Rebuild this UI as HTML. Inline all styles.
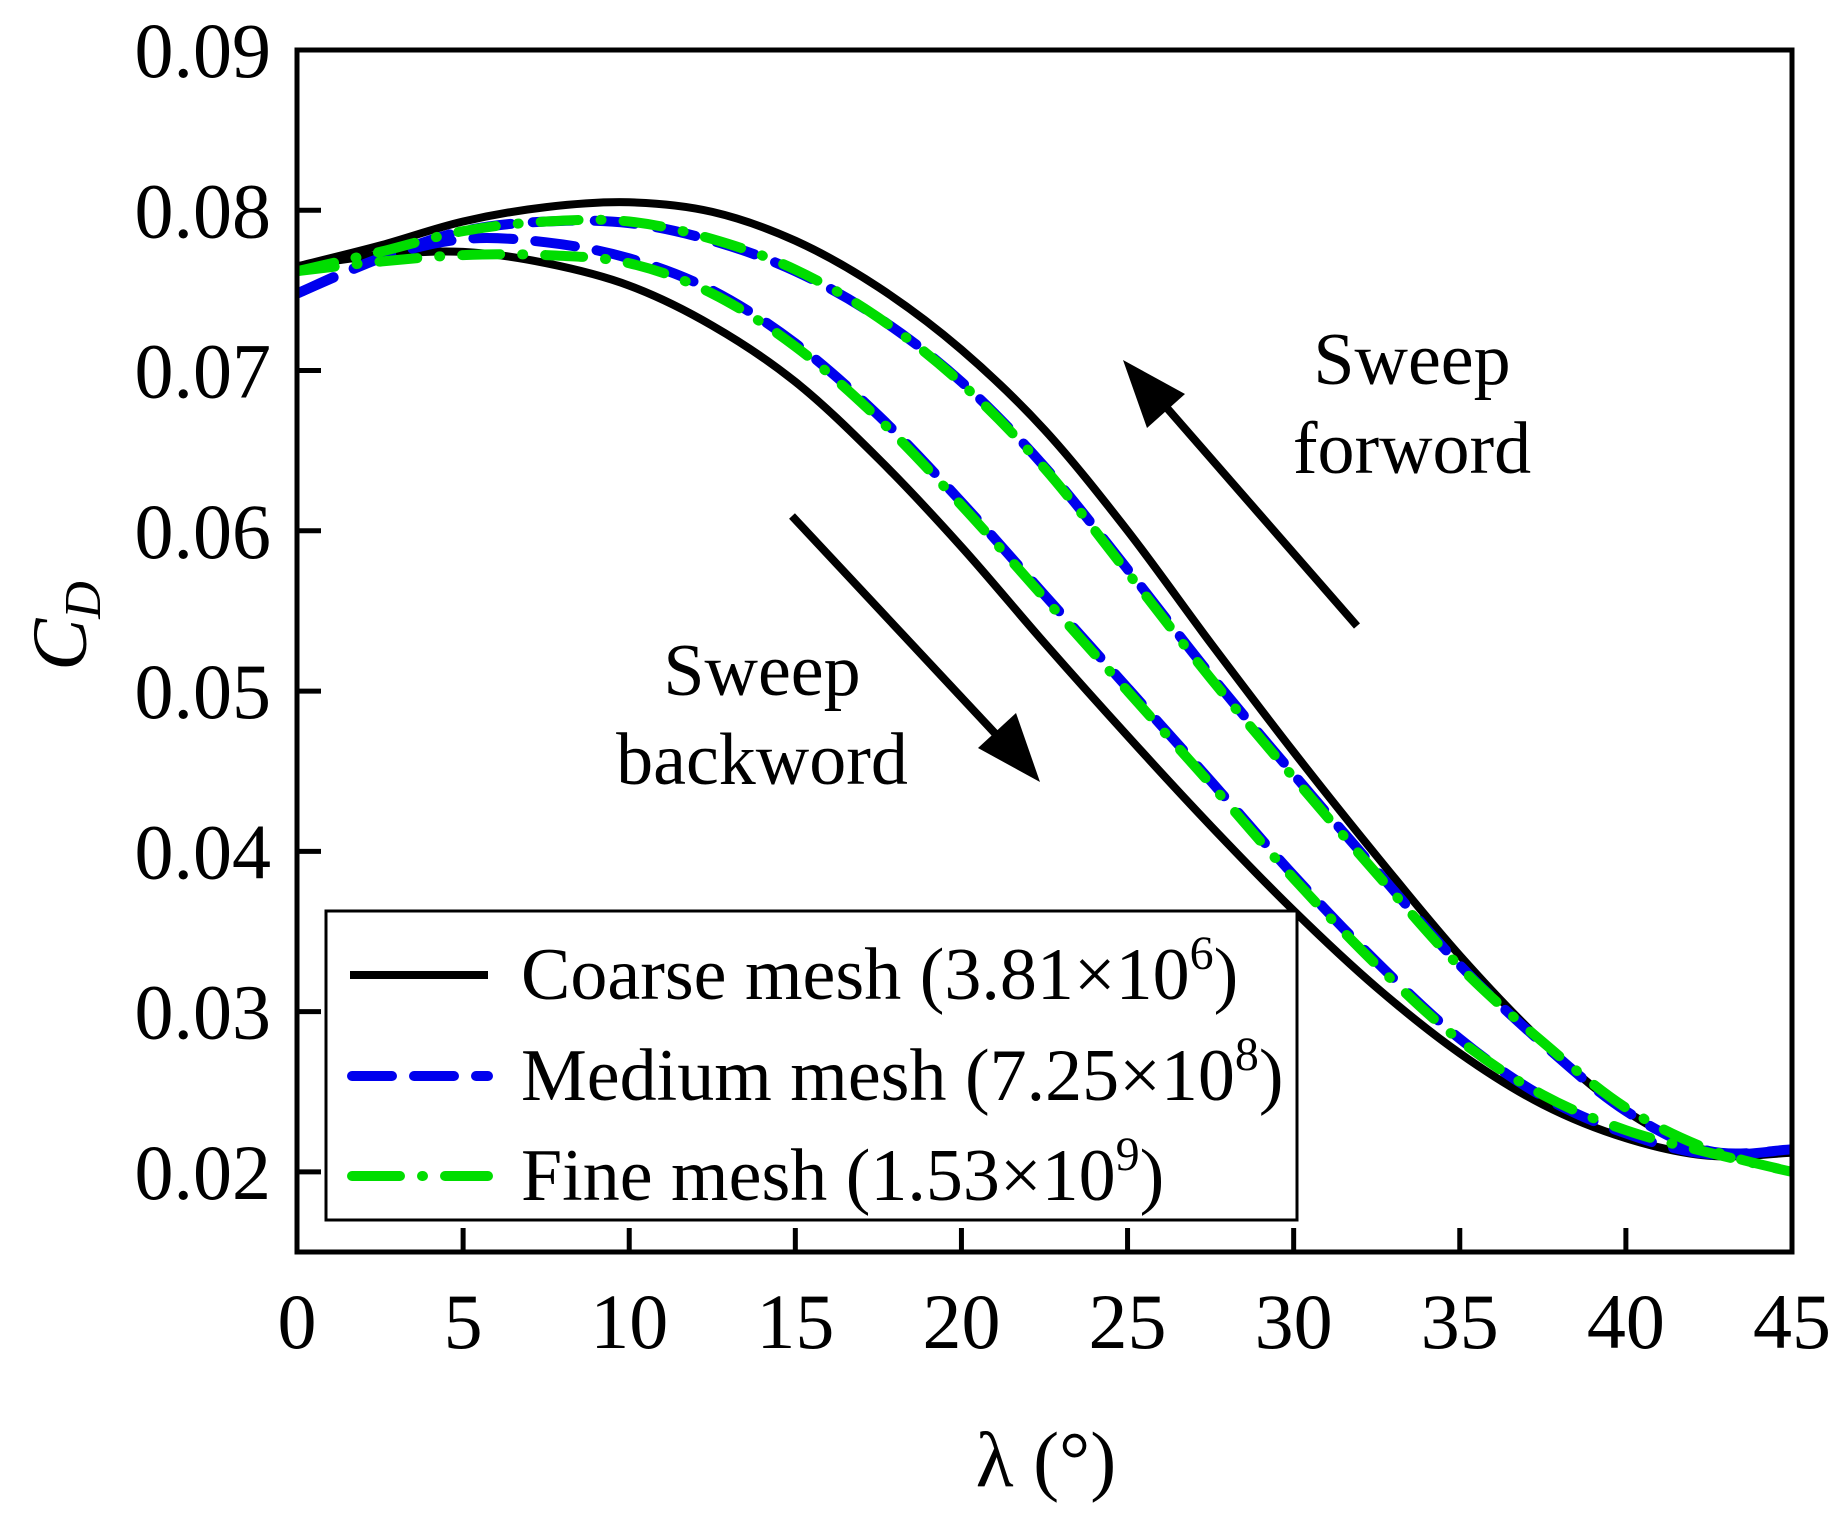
<!DOCTYPE html>
<html><head><meta charset="utf-8"><style>
html,body{margin:0;padding:0;background:#fff;}
svg text{font-family:"Liberation Serif",serif;fill:#000;}
</style></head><body>
<svg id="chart" width="1844" height="1518" viewBox="0 0 1844 1518" xmlns="http://www.w3.org/2000/svg">
<g id="plot"></g>
<g id="axes"></g>
</svg>
<script>
const lambdas = [0,2.5,5,7.5,10,12.5,15,17.5,20,22.5,25,27.5,30,32.5,35,37.5,40,42.5,45];
const coarseUpper = [0.0765,0.0778,0.0793,0.0802,0.0805,0.0799,0.0781,0.0752,0.0713,0.0663,0.0600,0.0530,0.0462,0.0397,0.0335,0.0281,0.0238,0.0213,0.0212];
const coarseLower = [0.0765,0.0772,0.0774,0.0767,0.0753,0.0728,0.0693,0.0645,0.0590,0.0530,0.0472,0.0416,0.0363,0.0315,0.0274,0.0242,0.0221,0.0210,0.0212];
const mediumUpper = [0.0748,0.0770,0.0787,0.0793,0.0792,0.0781,0.0762,0.0733,0.0693,0.0640,0.0576,0.0510,0.0448,0.0388,0.0329,0.0280,0.0238,0.0213,0.0214];
const mediumLower = [0.0748,0.0770,0.0782,0.0780,0.0770,0.0750,0.0717,0.0672,0.0618,0.0560,0.0502,0.0444,0.0385,0.0331,0.0283,0.0247,0.0224,0.0211,0.0214];
const fineUpper = [0.0762,0.0774,0.0787,0.0793,0.0793,0.0782,0.0763,0.0733,0.0692,0.0639,0.0574,0.0508,0.0446,0.0386,0.0328,0.0281,0.0240,0.0214,0.0200];
const fineLower = [0.0762,0.0768,0.0772,0.0772,0.0767,0.0748,0.0715,0.0670,0.0616,0.0558,0.0500,0.0442,0.0383,0.0329,0.0282,0.0248,0.0226,0.0212,0.0200];
const xTicks = [0,5,10,15,20,25,30,35,40,45];
const yTicks = [0.02,0.03,0.04,0.05,0.06,0.07,0.08,0.09];
const yTickLabels = ["0.02","0.03","0.04","0.05","0.06","0.07","0.08","0.09"];

const NS="http://www.w3.org/2000/svg";
const X0=297,X1=1792,Y0=1252,Y1=50,XMIN=0,XMAX=45,YMIN=0.015,YMAX=0.09;
function sx(v){return X0+(v-XMIN)/(XMAX-XMIN)*(X1-X0);}
function sy(v){return Y0-(v-YMIN)/(YMAX-YMIN)*(Y0-Y1);}
function mk(tag,attrs,parent){const e=document.createElementNS(NS,tag);for(const k in attrs)e.setAttribute(k,attrs[k]);parent.appendChild(e);return e;}
function smooth(xs,ys){
  const p=xs.map((x,i)=>[sx(x),sy(ys[i])]);
  let d="M"+p[0][0].toFixed(1)+","+p[0][1].toFixed(1);
  for(let i=0;i<p.length-1;i++){
    const p0=p[Math.max(0,i-1)],p1=p[i],p2=p[i+1],p3=p[Math.min(p.length-1,i+2)];
    const c1=[p1[0]+(p2[0]-p0[0])/6,p1[1]+(p2[1]-p0[1])/6];
    const c2=[p2[0]-(p3[0]-p1[0])/6,p2[1]-(p3[1]-p1[1])/6];
    d+="C"+c1[0].toFixed(1)+","+c1[1].toFixed(1)+" "+c2[0].toFixed(1)+","+c2[1].toFixed(1)+" "+p2[0].toFixed(1)+","+p2[1].toFixed(1);
  }
  return d;
}
const plot=document.getElementById('plot');
const axes=document.getElementById('axes');
const cp=mk('clipPath',{id:'clip'},plot);
mk('rect',{x:X0,y:Y1,width:X1-X0,height:Y0-Y1},cp);
const g=mk('g',{'clip-path':'url(#clip)'},plot);
const styles={
 coarse:{stroke:'#000',"stroke-width":8,fill:'none'},
 medium:{stroke:'#0000ee',"stroke-width":10,fill:'none',"stroke-dasharray":"40 22","stroke-linecap":"round"},
 fine:{stroke:'#00dd00',"stroke-width":10,fill:'none',"stroke-dasharray":"38 22 1 22","stroke-linecap":"round"}
};
function series(name,ys,key){
  const p=mk('path',Object.assign({d:smooth(lambdas,ys)},styles[key]),g);
  
  
}
series('coarse-upper-line',coarseUpper,'coarse');
series('coarse-lower-line',coarseLower,'coarse');
series('medium-upper-line',mediumUpper,'medium');
series('medium-lower-line',mediumLower,'medium');
series('fine-upper-line',fineUpper,'fine');
series('fine-lower-line',fineLower,'fine');

const fr=mk('rect',{x:X0,y:Y1,width:X1-X0,height:Y0-Y1,fill:'none',stroke:'#000','stroke-width':5},axes);


xTicks.forEach(t=>{
  const l=mk('line',{x1:sx(t),x2:sx(t),y1:Y0,y2:Y0-24,stroke:'#000','stroke-width':5},axes);
  
  
  const tx=mk('text',{x:sx(t),y:1348,'font-size':78,'text-anchor':'middle'},axes);
  tx.textContent=t;
  
  
});
yTicks.forEach((t,i)=>{
  const l=mk('line',{x1:X0,x2:X0+24,y1:sy(t),y2:sy(t),stroke:'#000','stroke-width':5},axes);
  
  
  const tx=mk('text',{x:271,y:sy(t)+27,'font-size':78,'text-anchor':'end'},axes);
  tx.textContent=yTickLabels[i];
  
  
});
</script>
<svg style="position:absolute;left:0;top:0" width="1844" height="1518" xmlns="http://www.w3.org/2000/svg">
<text x="1046" y="1486" font-size="78" text-anchor="middle">λ (°)</text>
<text transform="translate(86,626) rotate(-90)" font-size="78" font-style="italic" text-anchor="middle">C<tspan font-size="52" dy="14">D</tspan></text>
<g>
<line x1="1357" y1="626" x2="1160" y2="400" stroke="#000" stroke-width="8"/>
<polygon points="1123,360 1185,394 1147,428" fill="#000"/>
<text x="1412" y="384" font-size="74" text-anchor="middle">Sweep</text>
<text x="1412" y="473" font-size="74" text-anchor="middle">forword</text>
</g>
<g>
<line x1="792" y1="516" x2="1005" y2="744" stroke="#000" stroke-width="8"/>
<polygon points="1040,782 978,748 1016,713" fill="#000"/>
<text x="762" y="695" font-size="74" text-anchor="middle">Sweep</text>
<text x="762" y="784" font-size="74" text-anchor="middle">backword</text>
</g>
<g>
<rect x="326" y="911" width="971" height="309" fill="#fff" stroke="#000" stroke-width="3"/>
<g>
<line x1="350" y1="975" x2="488" y2="975" stroke="#000" stroke-width="8"/>
<text x="521" y="999" font-size="74">Coarse mesh (3.81×10<tspan font-size="48" dy="-30">6</tspan><tspan dy="30">)</tspan></text>
</g>
<g>
<line x1="352" y1="1076" x2="488" y2="1076" stroke="#0000ee" stroke-width="10" stroke-dasharray="40 22" stroke-linecap="round"/>
<text x="521" y="1100" font-size="74">Medium mesh (7.25×10<tspan font-size="48" dy="-30">8</tspan><tspan dy="30">)</tspan></text>
</g>
<g>
<line x1="352" y1="1176" x2="488" y2="1176" stroke="#00dd00" stroke-width="10" stroke-dasharray="48 22 1 22" stroke-linecap="round"/>
<text x="521" y="1200" font-size="74">Fine mesh (1.53×10<tspan font-size="48" dy="-30">9</tspan><tspan dy="30">)</tspan></text>
</g>
</g>
</svg>
</body></html>
